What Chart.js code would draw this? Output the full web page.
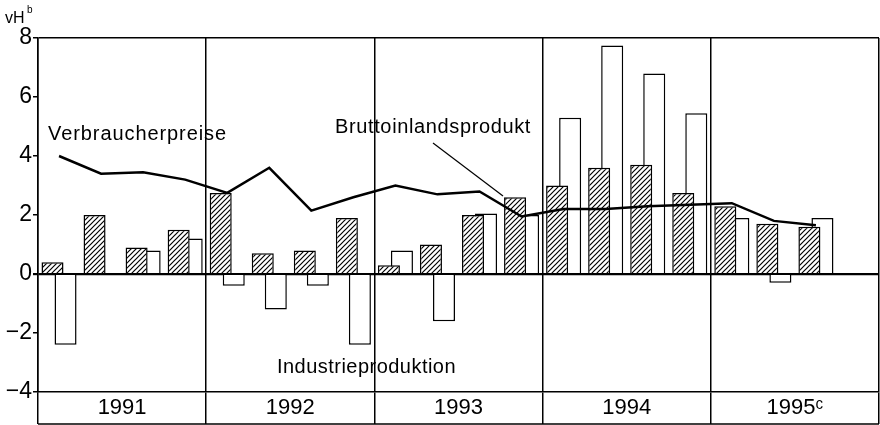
<!DOCTYPE html>
<html>
<head>
<meta charset="utf-8">
<script src="https://cdn.jsdelivr.net/npm/chart.js@4"></script>
<style>
  html, body { margin: 0; background: #fff; }
</style>
</head>
<body>
<canvas id="chart" width="880" height="425"></canvas>
<script>
// data (quarterly change, vH)
const years = ["1991", "1992", "1993", "1994", "1995ᶜ"];
const quarters = [
  "1991 I", "1991 II", "1991 III", "1991 IV",
  "1992 I", "1992 II", "1992 III", "1992 IV",
  "1993 I", "1993 II", "1993 III", "1993 IV",
  "1994 I", "1994 II", "1994 III", "1994 IV",
  "1995 I", "1995 II", "1995 III", "1995 IV",
];
const bruttoinlandsprodukt = [0.4, 2.0, 0.9, 1.5, 2.75, 0.7, 0.8, 1.9, 0.3, 1.0, 2.0, 2.6, 3.0, 3.6, 3.7, 2.75, 2.3, 1.7, 1.6, null];
const industrieproduktion = [-2.4, 0, 0.8, 1.2, -0.4, -1.2, -0.4, -2.4, 0.8, -1.6, 2.05, 2.0, 5.3, 7.75, 6.8, 5.45, 1.9, -0.3, 1.9, null];
const verbraucherpreise = [4.0, 3.4, 3.45, 3.2, 2.75, 3.6, 2.15, 2.6, 3.0, 2.7, 2.8, 1.95, 2.2, 2.2, 2.3, 2.35, 2.4, 1.8, 1.65, null];
const yTicks = [-4, -2, 0, 2, 4, 6, 8];

const FONT = "'Liberation Sans', Arial, sans-serif";

// diagonal hatch for the GDP bars
function makeHatch() {
  const c = document.createElement("canvas");
  c.width = 5;
  c.height = 5;
  const g = c.getContext("2d");
  g.fillStyle = "#fff";
  g.fillRect(0, 0, 5, 5);
  g.strokeStyle = "#000";
  g.lineWidth = 1.2;
  g.beginPath();
  g.moveTo(-1, 6); g.lineTo(6, -1);
  g.moveTo(-1, 1); g.lineTo(1, -1);
  g.moveTo(4, 6); g.lineTo(6, 4);
  g.stroke();
  return g.createPattern(c, "repeat");
}

function fitText(ctx, text, x, y, width) {
  ctx.letterSpacing = "0px";
  const w = ctx.measureText(text).width;
  ctx.letterSpacing = ((width - w) / text.length) + "px";
  ctx.fillText(text, x, y);
  ctx.letterSpacing = "0px";
}

const labels = {
  id: "labels",
  afterDraw(chart) {
    const ctx = chart.ctx;
    const area = chart.chartArea;
    ctx.save();
    ctx.fillStyle = "#000";
    ctx.strokeStyle = "#000";

    // bottom edge of the year band
    ctx.lineWidth = 1.5;
    ctx.beginPath();
    ctx.moveTo(area.left, 424);
    ctx.lineTo(area.right, 424);
    ctx.stroke();

    // unit
    ctx.textBaseline = "alphabetic";
    ctx.textAlign = "left";
    ctx.font = "16px " + FONT;
    ctx.fillText("vH", 5, 23);
    ctx.font = "10px " + FONT;
    ctx.fillText("b", 27, 13);

    ctx.font = "20px " + FONT;
    fitText(ctx, "Verbraucherpreise", 48, 140, 179);
    fitText(ctx, "Bruttoinlandsprodukt", 335, 133, 196);
    fitText(ctx, "Industrieproduktion", 277, 373, 179);

    // leader line
    ctx.lineWidth = 1.2;
    ctx.beginPath();
    ctx.moveTo(433, 143);
    ctx.lineTo(503, 196);
    ctx.stroke();
    ctx.restore();
  },
};

new Chart(document.getElementById("chart"), {
  data: {
    labels: quarters,
    datasets: [
      {
        type: "line",
        label: "Verbraucherpreise",
        data: verbraucherpreise,
        borderColor: "#000",
        borderWidth: 2.5,
        pointRadius: 0,
        tension: 0,
        order: 0,
      },
      {
        type: "bar",
        label: "Bruttoinlandsprodukt",
        data: bruttoinlandsprodukt,
        backgroundColor: makeHatch(),
        borderColor: "#000",
        borderWidth: 1.5,
        categoryPercentage: 0.62,
        barPercentage: 1.69,
        order: 1,
      },
      {
        type: "bar",
        label: "Industrieproduktion",
        data: industrieproduktion,
        backgroundColor: "#fff",
        borderColor: "#000",
        borderWidth: 1.5,
        categoryPercentage: 0.62,
        barPercentage: 1.69,
        order: 2,
      },
    ],
  },
  options: {
    responsive: false,
    animation: false,
    layout: { padding: { top: 38, right: 1, bottom: 1, left: 0 } },
    plugins: {
      legend: { display: false },
      tooltip: { enabled: false },
    },
    scales: {
      x: {
        type: "category",
        display: false,
        offset: true,
      },
      years: {
        type: "category",
        labels: years,
        position: "bottom",
        offset: true,
        afterFit(scale) { scale.height = 32; },
        grid: {
          offset: true,
          color: "#000",
          lineWidth: 1.5,
          tickLength: 32,
          drawOnChartArea: true,
        },
        border: { display: true, color: "#000", width: 1.5 },
        ticks: {
          color: "#000",
          padding: -29,
          maxRotation: 0,
          font: { family: FONT, size: 22 },
        },
      },
      y: {
        type: "linear",
        min: -4,
        max: 8,
        afterFit(scale) { scale.width = 38; },
        afterBuildTicks(scale) { scale.ticks = yTicks.map((v) => ({ value: v })); },
        grid: {
          color: (c) => (c.tick && (c.tick.value === 0 || c.tick.value === 8) ? "#000" : "rgba(0,0,0,0)"),
          lineWidth: (c) => (c.tick && c.tick.value === 0 ? 2.2 : 1.5),
          tickColor: "#000",
          tickLength: 5,
        },
        border: { display: true, color: "#000", width: 1.5 },
        ticks: {
          color: "#000",
          padding: 1,
          font: { family: FONT, size: 23 },
          callback: (v) => (v < 0 ? "\u2212" + Math.abs(v) : String(v)),
        },
      },
    },
  },
  plugins: [labels],
});
</script>
</body>
</html>
